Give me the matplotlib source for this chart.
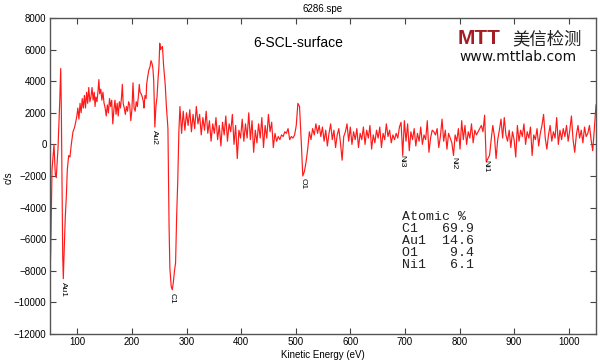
import numpy as np
import matplotlib
matplotlib.use("Agg")
import matplotlib.pyplot as plt

# low energy part (Au1, Au2, C1), read point by point
ev_low = [50, 51.3, 53.7, 57.3, 59.7, 61.5, 64.7, 66.5, 67.8, 69.6, 70.7, 72,
          73.3, 74.4, 75.6, 78, 79.9, 81.7, 84.2, 86.6, 89, 92.1, 95.2,
          99, 101, 103, 105, 107, 109, 111, 113, 115, 117, 119, 121, 123, 125,
          127, 129, 131, 132.5, 134, 136, 138, 139.5, 141, 143, 145, 147, 149,
          151, 153, 155, 157, 159, 161, 163, 165, 167, 169, 171, 173, 175, 177,
          179, 181, 182.5, 184, 186, 188, 190, 192, 194, 196, 198, 200, 202,
          204, 206, 208, 210, 212, 213.5, 215, 217, 219, 221, 222, 224, 226,
          227, 229, 231, 233, 235, 237, 238.5, 240, 242, 244, 246, 248, 249.5,
          251, 252.5, 254, 256, 258, 261, 263, 266, 268, 269.5, 272, 274, 276,
          278, 280, 282, 284, 286]
cps_low = [-8500, -6700, -1600, 0, -1900, -2100, -200, 1500, 2700, 4800, 2400, -2200,
           -7100, -8500, -7100, -4600, -3300, -1600, -700, -800, 0, 800, 1100,
           1750, 2300, 1600, 2600, 2000, 2900, 2300, 3100, 2300, 3300, 2600, 3600, 2700, 3000,
           3600, 2800, 3300, 2400, 3000, 2700, 3400, 4100, 3200, 3500, 2800, 3300, 2600,
           2300, 1800, 2500, 2000, 2900, 2400, 2800, 1300, 2200, 2800, 1900, 2600, 1800, 2700,
           2300, 3000, 3800, 2600, 2300, 1900, 2400, 2100, 2700, 2500, 1500, 2200, 3900,
           2300, 2100, 2700, 2400, 3100, 3800, 3300, 3200, 3000, 2700, 2300, 3100, 2900,
           3800, 4300, 4700, 4900, 5300, 5100, 4800, 4000, 1100, 2400, 3000, 4200, 4900,
           6400, 6000, 6100, 6200, 5000, 3800, 2500, 1000, -5000, -7800, -9000, -9200, -8700,
           -8000, -7500, -4500, -2300, 800]

# 288 .. 543 eV, every 3 eV (O1 region)
cps_mid = [2400, 700, 2100, 900, 2000, 1200, 2200, 800, 1900, 1000, 2400, 1300,
           1900, 600, 1700, 900, 2100, 700, 1500, 200, 1300, 700, 1700, 300,
           1200, -100, 1400, 600, 1800, 200, 1300, 800, 1900, 0, 1200, -900,
           900, 400, 1600, 200, 1300, 400, 2000, 300, 1500, -500, 900, 100,
           1300, 400, 1700, -200, 1200, 400, 1900, 800, 1400, -200, 700, 200,
           500, 300, 600, 500, 800, 700, 1000, 300, 500, 400, 600, 1200,
           2600, 2400, 300, -2000, -1700, -1100, -300, 800, 300, 1000, 600, 1300,
           700, 1200]

# 546 .. 1050 eV, every 3 eV (Ni region)
cps_high = [500, 1100, 200, 900, -100, 700, 1300, 300, 900, -200, 600, 1000,
            100, -1000, 500, 800, 1300, 200, 1100, 0, 800, 300, 1000, -200,
            700, 300, 1100, 0, 900, 400, 1200, -300, 600, 100, 900, 400,
            1100, -200, 700, 300, 1300, 500, 900, 100, 600, 300, 700, 400,
            1100, 1400, -700, 1500, 200, 1300, -400, 800, 300, 1000, -100, 700,
            200, 1100, 0, 600, 300, 1500, -500, 400, 900, 800, 600, 1000,
            -200, 500, 1600, 200, 900, -300, 700, 400, 100, -700, 600, 200,
            1000, -300, 1500, 300, 1200, 0, 800, 400, 1300, 100, 900, 600,
            800, 1000, 1200, 800, 1850, -1100, -900, -700, 300, 1200, 500, -900,
            300, 900, 1600, 400, 1700, 600, 200, 900, -200, 800, 300, -800,
            1200, 200, 900, 500, 1300, 0, 800, 400, 1100, -700, 600, 300,
            1000, -100, 700, 1200, 1900, 400, -300, 600, 1200, 200, 800, 400,
            1700, 0, 900, 300, 1000, 500, 1200, 200, 900, 1800, 300, -500,
            600, 1200, 400, 900, 100, 1100, 500, 700, 1200, 300, -400, 1000,
            2500]

peak_names = ["Au1", "Au2", "C1", "O1", "Ni3", "Ni2", "Ni1"]
peak_ev = [75.6, 242, 273.5, 513, 695, 790, 848]
peak_cps = [-8700, 900, -9400, -2100, -700, -800, -1000]

elements = ["C1", "Au1", "O1", "Ni1"]
atomic_pct = [69.9, 14.6, 9.4, 6.1]

energy = np.concatenate([ev_low,
                         288 + 3 * np.arange(len(cps_mid)),
                         546 + 3 * np.arange(len(cps_high))])
counts = np.concatenate([cps_low, cps_mid, cps_high])

plt.rcParams['font.family'] = ['Liberation Sans', 'DejaVu Sans']

fig = plt.figure(figsize=(6, 3.62), dpi=100)
ax = fig.add_axes([50 / 600, 28 / 362, 546 / 600, 316 / 362])

ax.plot(energy, counts, color='#ff1a1a', lw=0.85)

ax.set_xlim(50, 1050)
ax.set_ylim(-12000, 8000)
ax.set_xticks(range(100, 1001, 100))
ax.set_yticks(range(-12000, 8001, 2000))
ax.tick_params(direction='in', length=4, width=0.8, labelsize=7, pad=2.5,
               top=True, right=True, color='#444444')
for s in ax.spines.values():
    s.set_color('#555555')
    s.set_linewidth(1.0)

ax.set_title("6286.spe", fontsize=7, pad=4)
ax.set_xlabel("Kinetic Energy (eV)", fontsize=7, labelpad=2)
fig.text(9 / 600, 1 - 178 / 362, "c/s", fontsize=7, rotation=90,
         ha='center', va='center')

# peak markers
for name, x, y in zip(peak_names, peak_ev, peak_cps):
    ax.text(x, y, name, rotation=270, fontsize=6, ha='center', va='top')

ax.text(0.455, 0.92, "6-SCL-surface", transform=ax.transAxes,
        fontsize=10, ha='center', va='center')

# quantification table
lines = ["Atomic %"] + [f"{e:<4}{p:5.1f}" for e, p in zip(elements, atomic_pct)]
for i, line in enumerate(lines):
    fig.text(402 / 600, 1 - (217 + 12 * i) / 362, line, family='Liberation Mono',
             fontsize=9.5, color='#222222', ha='left', va='center')

# logo
fig.text(458 / 600, 1 - 39 / 362, "MTT", fontsize=15, fontweight='bold',
         color='#a31d24', ha='left', va='center', fontstretch='condensed')
fig.text(512 / 600, 1 - 39 / 362, "美信检测", family='Noto Sans CJK SC',
         fontsize=12.5, color='#222222', ha='left', va='center')
fig.text(459 / 600, 1 - 57 / 362, "www.mttlab.com", family='DejaVu Sans',
         fontsize=10, color='#111111', ha='left', va='center')

fig.savefig("out.png", dpi=100)
